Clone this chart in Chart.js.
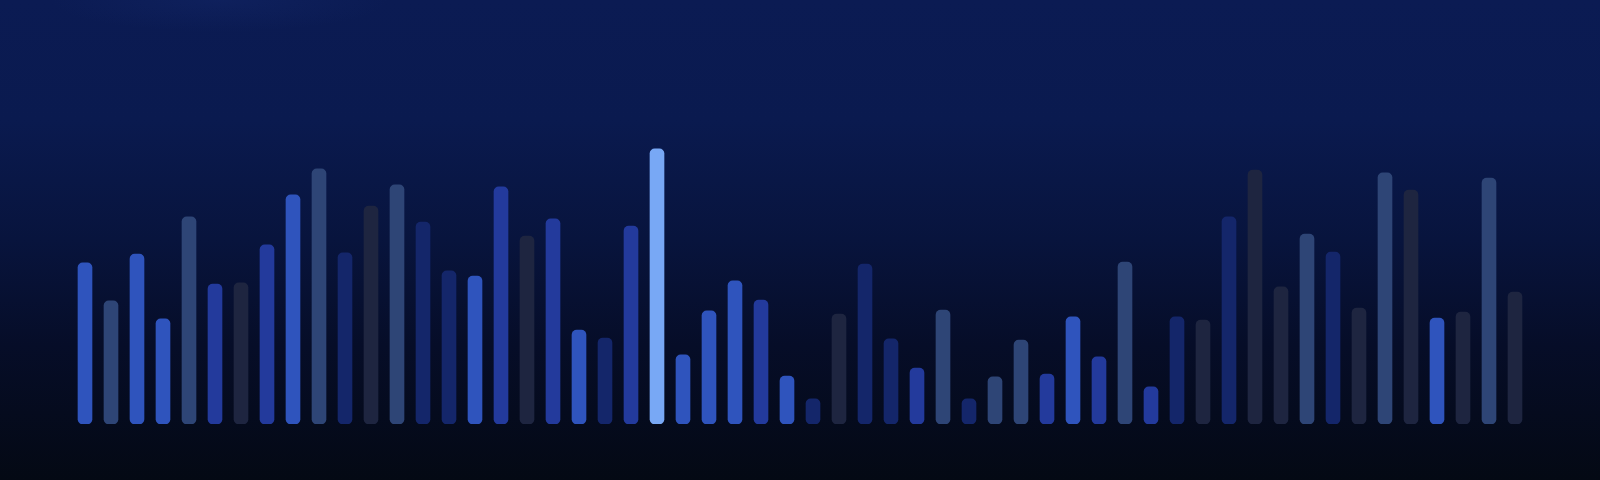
<!DOCTYPE html>
<html>
<head>
<meta charset="utf-8">
<script src="https://cdn.jsdelivr.net/npm/chart.js@4.4.1/dist/chart.umd.min.js"></script>
<style>
  html, body { margin: 0; padding: 0; width: 1600px; height: 480px; overflow: hidden; }
  body {
    background:
      radial-gradient(ellipse 170px 32px at 220px 0px, rgba(40,70,160,0.12), rgba(40,70,160,0) 100%),
      linear-gradient(to bottom, #0b1b53 0%, #0a1a4f 25%, #08143d 50%, #060d28 72%, #040914 100%);
  }
  #wrap { position: absolute; left: 0; top: 0; width: 1600px; height: 480px; }
</style>
</head>
<body>
<div id="wrap"><canvas id="c" width="1600" height="480"></canvas></div>
<script>
const categories = ["1","2","3","4","5","6","7","8","9","10","11","12","13","14","15","16","17","18","19","20","21","22","23","24","25","26","27","28","29","30","31","32","33","34","35","36","37","38","39","40","41","42","43","44","45","46","47","48","49","50","51","52","53","54","55","56"];

const values = [40.3, 30.8, 42.5, 26.3, 51.8, 35.0, 35.3, 44.8, 57.3, 63.8,
                42.8, 54.5, 59.8, 50.5, 38.3, 37.0, 59.3, 47.0, 51.3, 23.5,
                21.5, 49.5, 68.8, 17.3, 28.3, 35.8, 31.0, 12.0, 6.3, 27.5,
                40.0, 21.3, 14.0, 28.5, 6.3, 11.8, 21.0, 12.5, 26.8, 16.8,
                40.5, 9.3, 26.8, 26.0, 51.8, 63.5, 34.3, 47.5, 43.0, 29.0,
                62.8, 58.5, 26.5, 28.0, 61.5, 33.0];

// tone per bar: B bright, M medium, N navy, S slate, D dark, H highlight
const barTones = ["B","S","B","B","S","M","D","M","B","S",
                  "N","D","S","N","N","B","M","D","M","B",
                  "N","M","H","B","B","B","M","B","N","D",
                  "N","N","M","S","N","S","S","M","B","M",
                  "S","M","N","D","N","D","D","S","N","D",
                  "S","D","B","D","S","D"];

const palette = { B: "#2f54bd", M: "#233a9c", N: "#14266a", S: "#2e4576", D: "#1e2540", H: "#78a8f5" };

new Chart(document.getElementById("c"), {
  type: "bar",
  data: {
    labels: categories,
    datasets: [{
      data: values,
      backgroundColor: barTones.map(t => palette[t]),
      borderWidth: 0,
      borderRadius: 5,
      borderSkipped: false,
      barThickness: 14
    }]
  },
  options: {
    responsive: false,
    animation: false,
    devicePixelRatio: 1,
    layout: { padding: { left: 72, right: 72, top: 24, bottom: 56 } },
    plugins: { legend: { display: false }, tooltip: { enabled: false } },
    scales: {
      x: { display: false, grid: { display: false }, offset: true },
      y: { display: false, min: 0, max: 100, grid: { display: false } }
    }
  }
});
</script>
</body>
</html>
